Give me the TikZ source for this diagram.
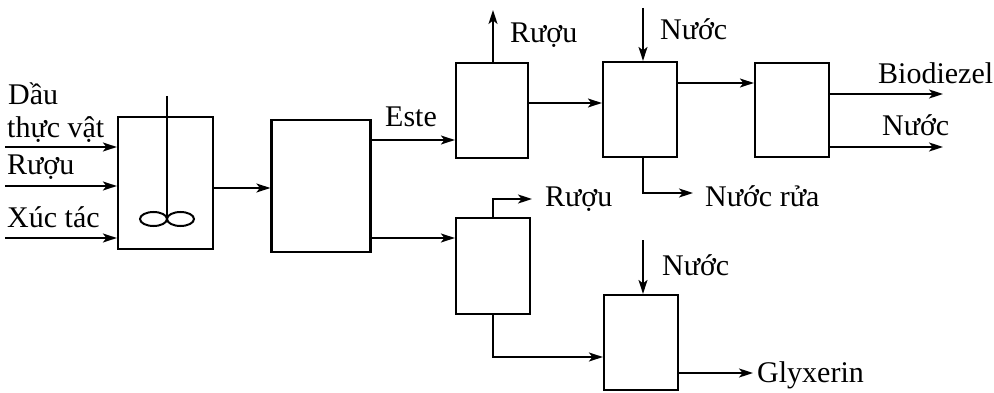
\documentclass[tikz,border=0pt]{standalone}
\usepackage{fontspec}
\setmainfont{Liberation Serif}
\usetikzlibrary{arrows.meta}
\begin{document}
\begin{tikzpicture}[x=1pt,y=-1pt,
  unit/.style={draw,line width=2.2pt,inner sep=0pt},
  flow/.style={line width=1.8pt,-{Stealth[length=14pt,width=9pt,inset=3.5pt]}},
  lbl/.style={inner sep=0pt,font=\fontsize{30}{33}\selectfont}]
\useasboundingbox (0,0) rectangle (994,393);
% units
\node[unit,minimum width=95pt,minimum height=132pt] (M) at (165.5,183) {};
\node[unit,minimum width=99pt,minimum height=132pt] (S) at (321,186) {};
\node[unit,minimum width=72pt,minimum height=95pt] (A) at (492,110.5) {};
\node[unit,minimum width=74pt,minimum height=95pt] (W) at (640,109.5) {};
\node[unit,minimum width=74pt,minimum height=94pt] (D) at (792,110) {};
\node[unit,minimum width=74pt,minimum height=96pt] (B) at (493,266) {};
\node[unit,minimum width=74pt,minimum height=95pt] (G) at (641,342.5) {};
% stirrer
\coordinate (shaftTop) at (167,96);
\coordinate (hub) at (167,219);
\draw[line width=1.4pt] (shaftTop) -- (hub);
\draw[line width=2pt] ([xshift=-13.5pt]hub) ellipse [x radius=13.5pt,y radius=7pt];
\draw[line width=2pt] ([xshift=13.5pt]hub) ellipse [x radius=13.5pt,y radius=7pt];
% inputs to mixer
\coordinate (in1) at (5,147);
\coordinate (in2) at (5,186);
\coordinate (in3) at (5,238);
\draw[flow] (in1) -- (in1 -| M.west);
\draw[flow] (in2) -- (in2 -| M.west);
\draw[flow] (in3) -- (in3 -| M.west);
\node[lbl,anchor=base west] (t1) at (8,105) {Dầu};
\node[lbl,anchor=base west] (t2) at (7,138) {thực vật};
\node[lbl,anchor=base west] (t3) at (7,175) {Rượu};
\node[lbl,anchor=base west] (t4) at (7,228) {Xúc tác};
% mixer -> settler
\draw[flow] (M.east |- 0,188) -- (S.west |- 0,188);
% settler -> A (Este)
\draw[flow,line width=1.5pt] (S.east |- 0,140) -- (A.west |- 0,140);
\node[lbl,anchor=base west] (este) at (385,127) {Este};
% A alcohol out
\coordinate (a1) at (493,10);
\draw[flow] (A.north -| a1) -- (a1);
\node[lbl,anchor=base west] (r1) at (510,43) {Rượu};
% A -> W
\draw[flow,line width=1.5pt] (A.east |- 0,103) -- (W.west |- 0,103);
% water to W
\coordinate (w1) at (643,8);
\draw[flow,line width=1.5pt] (w1) -- (W.north -| w1);
\node[lbl,anchor=base west] (n1) at (660,40) {Nước};
% W wash water out
\coordinate (w2) at (693,193);
\draw[flow,line width=1.5pt] (W.south -| 643,0) |- (w2);
\node[lbl,anchor=base west] (nr) at (705,207) {Nước rửa};
% W -> D
\draw[flow,line width=1.4pt] (W.east |- 0,83) -- (D.west |- 0,83);
% D outputs
\coordinate (d1) at (943,94);
\coordinate (d2) at (943,147);
\draw[flow] (D.east |- d1) -- (d1);
\draw[flow] (D.east |- d2) -- (d2);
\node[lbl,anchor=base west] (bio) at (878,84) {Biodiezel};
\node[lbl,anchor=base west] (n2) at (882,136) {Nước};
% settler -> B
\draw[flow] (S.east |- 0,238) -- (B.west |- 0,238);
% B alcohol out
\coordinate (b1) at (532,199);
\draw[flow] (B.north -| 493,0) |- (b1);
\node[lbl,anchor=base west] (r2) at (545,207) {Rượu};
% B -> G
\draw[flow] (B.south -| 493,0) |- (G.west |- 0,357);
% water to G
\coordinate (g1) at (643,240);
\draw[flow,line width=1.5pt] (g1) -- (G.north -| g1);
\node[lbl,anchor=base west] (n3) at (662,275) {Nước};
% G output
\coordinate (g2) at (753,373);
\draw[flow] (G.east |- g2) -- (g2);
\node[lbl,anchor=base west] (gly) at (757,382) {Glyxerin};
\end{tikzpicture}
\end{document}
